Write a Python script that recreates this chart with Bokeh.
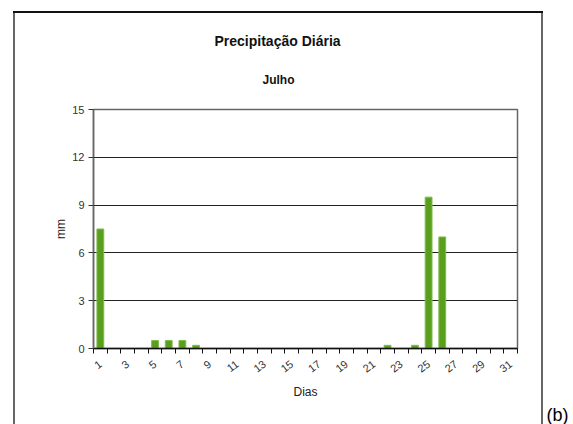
import math
from bokeh.plotting import figure
from bokeh.models import FixedTicker, Title, ColumnDataSource
from bokeh.embed import file_html
from bokeh.resources import INLINE

days = list(range(1, 32))
precip = [7.5, 0, 0, 0, 0.5, 0.5, 0.5, 0.2, 0, 0,
          0, 0, 0, 0, 0, 0, 0, 0, 0, 0,
          0, 0.2, 0, 0.2, 9.5, 7.0, 0, 0, 0, 0, 0]
y_ticks = [0, 3, 6, 9, 12, 15]
x_label_days = list(range(1, 32, 2))
title_text = "Precipitação Diária"
subtitle_text = "Julho"
x_title = "Dias"
y_title = "mm"
FONT = "Liberation Sans"

src = ColumnDataSource(dict(day=days, mm=precip))

p = figure(width=573, height=424, output_backend="svg", toolbar_location=None,
           x_range=(0.5, 31.5), y_range=(0, 15), title=None,
           min_border_left=93, min_border_right=56, min_border_top=109,
           min_border_bottom=76)

p.vbar(x="day", top="mm", width=0.5, source=src,
       fill_color="#5a9e1e", line_color="#82bb4e", line_width=1)

# x axis
p.xaxis.ticker = FixedTicker(ticks=x_label_days,
                             minor_ticks=[d - 0.5 for d in days] + [31.5])
p.xaxis.major_tick_out = 0
p.xaxis.major_tick_in = 0
p.xaxis.minor_tick_out = 5
p.xaxis.minor_tick_in = 0
p.xaxis.minor_tick_line_color = "#111111"
p.xaxis.axis_line_color = "#111111"
p.xaxis.axis_line_width = 1.5
p.xaxis.major_label_orientation = 0.65
p.xaxis.major_label_standoff = 9
p.xaxis.major_label_text_font = FONT
p.xaxis.major_label_text_font_size = "11px"
p.xaxis.major_label_text_color = "#333333"
p.xaxis.axis_label = x_title
p.xaxis.axis_label_text_font = FONT
p.xaxis.axis_label_text_font_size = "12px"
p.xaxis.axis_label_text_font_style = "normal"
p.xaxis.axis_label_text_color = "#222222"
p.xaxis.axis_label_standoff = 6

# y axis
p.yaxis.ticker = FixedTicker(ticks=y_ticks)
p.yaxis.minor_tick_line_color = None
p.yaxis.major_tick_out = 5
p.yaxis.major_tick_in = 0
p.yaxis.major_tick_line_color = "#333333"
p.yaxis.axis_line_color = "#666666"
p.yaxis.axis_line_width = 1.5
p.yaxis.major_label_standoff = 4
p.yaxis.major_label_text_font = FONT
p.yaxis.major_label_text_font_size = "11px"
p.yaxis.major_label_text_color = "#333333"
p.yaxis.axis_label = y_title
p.yaxis.axis_label_text_font = FONT
p.yaxis.axis_label_text_font_size = "12px"
p.yaxis.axis_label_text_font_style = "normal"
p.yaxis.axis_label_text_color = "#222222"
p.yaxis.axis_label_standoff = 1

p.xgrid.grid_line_color = None
p.ygrid.ticker = FixedTicker(ticks=y_ticks)
p.ygrid.grid_line_color = "#222222"
p.ygrid.grid_line_width = 1

p.outline_line_color = "#666666"
p.outline_line_width = 1.5
p.background_fill_color = "white"
p.border_fill_color = None

# titles (closest to frame first)
p.add_layout(Title(text=subtitle_text, align="left", offset=169,
                   vertical_align="middle", standoff=44,
                   text_font=FONT, text_font_size="12px",
                   text_font_style="bold", text_color="#111111"), "above")
p.add_layout(Title(text=title_text, align="left", offset=121,
                   vertical_align="middle", standoff=0,
                   text_font=FONT, text_font_size="14px",
                   text_font_style="bold", text_color="#111111"), "above")
p.add_layout(Title(text="(b)", align="right", offset=-51,
                   vertical_align="bottom", standoff=0,
                   text_font=FONT, text_font_size="18px",
                   text_font_style="normal", text_color="#000000"), "below")

# outer frame box drawn as the page background behind the transparent border
p.styles = {
    "background-color": "white",
    "background-image": ("linear-gradient(#111,#111), linear-gradient(#666,#666), "
                         "linear-gradient(#666,#666)"),
    "background-size": "530px 2px, 2px 420px, 2px 420px",
    "background-position": "13px 11px, 13px 11px, 541px 11px",
    "background-repeat": "no-repeat",
}

open("out.html", "w").write(file_html(p, INLINE))
